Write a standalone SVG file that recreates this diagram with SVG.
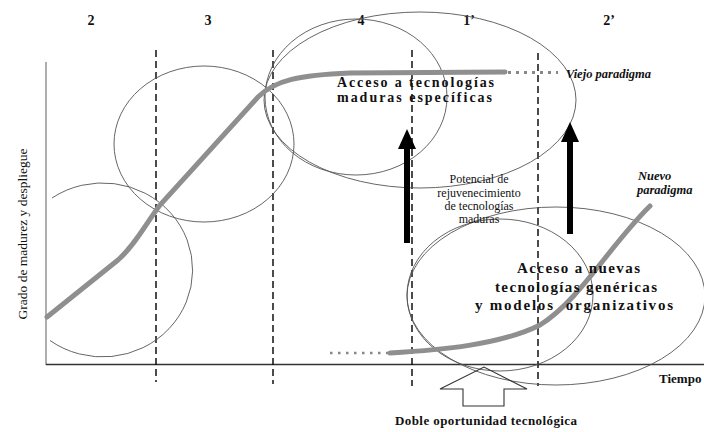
<svg xmlns="http://www.w3.org/2000/svg" width="704" height="432" viewBox="0 0 704 432">
<style>
.ax{stroke:#333;stroke-width:1.3;fill:none}
.yax{stroke:#777;stroke-width:1.2;fill:none}
.dash{stroke:#111;stroke-width:1.5;stroke-dasharray:7 4;fill:none}
.ell{stroke:#555;stroke-width:0.9;fill:none}
.curve{stroke:#8f8f8f;stroke-width:5;fill:none;stroke-linecap:round}
.dots{stroke:#888;stroke-width:3;stroke-dasharray:3 5;fill:none}
.barr{stroke:#000;stroke-width:6;fill:none}
.bhead{fill:#000}
.hollow{fill:none;stroke:#333;stroke-width:1.1}
.ph{font-family:"Liberation Serif","Times New Roman",serif;font-weight:bold;font-size:14px;fill:#111;text-anchor:middle}
.big{font-family:"Liberation Serif","Times New Roman",serif;font-weight:bold;font-size:14px;fill:#111}
.it{font-family:"Liberation Serif","Times New Roman",serif;font-weight:bold;font-style:italic;font-size:12.5px;fill:#111}
.sm{font-family:"Liberation Serif","Times New Roman",serif;font-size:12px;fill:#111;text-anchor:middle}
.lab{font-family:"Liberation Serif","Times New Roman",serif;font-size:13.5px;fill:#111}
.bl{font-family:"Liberation Serif","Times New Roman",serif;font-weight:bold;font-size:13px;fill:#111}
</style>

<g id="axes">
<line class="yax" x1="46" y1="62" x2="46" y2="365"/>
<line class="ax" x1="46" y1="364.5" x2="704" y2="364.5"/>
<text class="lab" text-anchor="middle" transform="translate(27,234) rotate(-90)">Grado de madurez y despliegue</text>
<text class="bl" x="659" y="383">Tiempo</text>
</g>

<g id="phases">
<line class="dash" x1="156" y1="50" x2="156" y2="382"/>
<line class="dash" x1="273" y1="50" x2="273" y2="384"/>
<line class="dash" x1="412" y1="50" x2="412" y2="386"/>
<line class="dash" x1="538" y1="53" x2="538" y2="386"/>
<text class="ph" x="91" y="25">2</text>
<text class="ph" x="208" y="25">3</text>
<text class="ph" x="361" y="25">4</text>
<text class="ph" x="469" y="25">1’</text>
<text class="ph" x="609" y="25">2’</text>
</g>

<g id="ellipses">
<path class="ell" d="M52,198 A90,87 0 1 1 50,340.5"/>
<ellipse class="ell" cx="204" cy="144" rx="90" ry="78"/>
<ellipse class="ell" cx="356" cy="97" rx="91" ry="78"/>
<ellipse class="ell" cx="420" cy="100" rx="156" ry="88"/>
<ellipse class="ell" cx="500" cy="295" rx="93" ry="76"/>
<ellipse class="ell" cx="556" cy="296" rx="149" ry="89"/>
</g>

<g id="old-paradigm">
<path class="curve" d="M47,317 L118,260 C135,245 145,225 160,205 L258,97 C275,80 300,75 350,73 L505,72"/>
<line class="dots" x1="508" y1="72.5" x2="558" y2="72.5"/>
<text class="it" x="566" y="78">Viejo paradigma</text>
</g>

<g id="new-paradigm">
<line class="dots" x1="330" y1="353" x2="392" y2="353" style="stroke-width:2.5;stroke-dasharray:2.5 5.5"/>
<path class="curve" d="M390,353 C440,350 500,345 540,325 C580,300 610,245 650,206"/>
<text class="it" x="638" y="180">Nuevo</text>
<text class="it" x="637" y="194">paradigma</text>
</g>

<g id="mature-label">
<text class="big" x="337" y="87" textLength="157" lengthAdjust="spacing">Acceso a tecnologías</text>
<text class="big" x="337" y="102" textLength="155" lengthAdjust="spacing">maduras específicas</text>
</g>

<g id="new-label">
<text class="big" x="517" y="273" textLength="123" lengthAdjust="spacing" style="font-size:15px">Acceso a nuevas</text>
<text class="big" x="495" y="292" textLength="162" lengthAdjust="spacing" style="font-size:15px">tecnologías genéricas</text>
<text class="big" x="475" y="310" textLength="198" lengthAdjust="spacing" style="font-size:15px" xml:space="preserve">y modelos  organizativos</text>
</g>

<g id="potential-label">
<text class="sm" x="479" y="183">Potencial de</text>
<text class="sm" x="479" y="197">rejuvenecimiento</text>
<text class="sm" x="479" y="210">de tecnologías</text>
<text class="sm" x="479" y="223">maduras</text>
</g>

<g id="connectors">
<line class="barr" x1="407" y1="243" x2="407" y2="146"/>
<polygon class="bhead" points="398,149 407,129 416,149"/>
<line class="barr" x1="570" y1="234" x2="570" y2="140"/>
<polygon class="bhead" points="561,142 570,122 579,142"/>
<polygon class="hollow" points="463,406 463,389 440,389 484,367 527,389 504,389 504,406"/>
</g>

<g id="opportunity-label">
<text class="bl" x="395" y="425" textLength="182" lengthAdjust="spacing">Doble oportunidad tecnológica</text>
</g>
</svg>
